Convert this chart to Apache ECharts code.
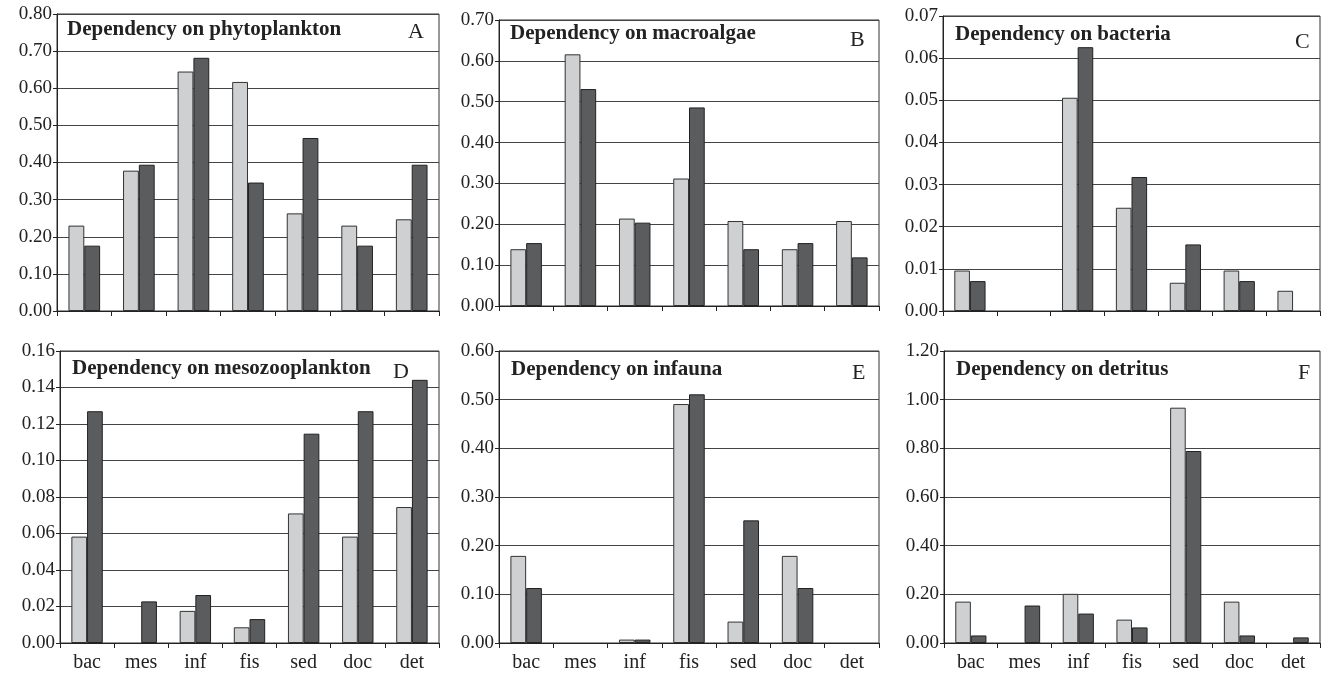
<!DOCTYPE html>
<html>
<head>
<meta charset="utf-8">
<script src="https://cdn.jsdelivr.net/npm/echarts@6/dist/echarts.min.js"></script>
<style>
  html, body { margin: 0; padding: 0; background: #fff; }
  #chart { width: 1321px; height: 673px; }
</style>
</head>
<body>
<div id="chart"></div>
<script>
// categories (same for every panel)
var categories = ["bac", "mes", "inf", "fis", "sed", "doc", "det"];

// panel titles + letters
var panelTitles = ["Dependency on phytoplankton", "Dependency on macroalgae", "Dependency on bacteria",
                   "Dependency on mesozooplankton", "Dependency on infauna", "Dependency on detritus"];
var panelLetters = ["A", "B", "C", "D", "E", "F"];

// y axis ranges
var yMax = [0.8, 0.7, 0.07, 0.16, 0.6, 1.2];
var yStep = [0.1, 0.1, 0.01, 0.02, 0.1, 0.2];

// light bars (first series) per panel
var lightA = [0.23, 0.378, 0.645, 0.617, 0.263, 0.23, 0.247];
var lightB = [0.139, 0.616, 0.214, 0.312, 0.208, 0.139, 0.208];
var lightC = [0.0096, 0, 0.0506, 0.0245, 0.0067, 0.0096, 0.0048];
var lightD = [0.0583, 0, 0.0176, 0.0086, 0.071, 0.0583, 0.0745];
var lightE = [0.179, 0, 0.007, 0.491, 0.044, 0.179, 0];
var lightF = [0.17, 0, 0.202, 0.096, 0.967, 0.17, 0];

// dark bars (second series) per panel
var darkA = [0.176, 0.394, 0.682, 0.346, 0.466, 0.176, 0.394];
var darkB = [0.154, 0.531, 0.204, 0.486, 0.139, 0.154, 0.119];
var darkC = [0.0071, 0, 0.0626, 0.0318, 0.0158, 0.0071, 0];
var darkD = [0.127, 0.0228, 0.0263, 0.0131, 0.1147, 0.127, 0.1442];
var darkE = [0.113, 0, 0.007, 0.511, 0.252, 0.113, 0];
var darkF = [0.031, 0.154, 0.121, 0.064, 0.789, 0.031, 0.023];

var lights = [lightA, lightB, lightC, lightD, lightE, lightF];
var darks = [darkA, darkB, darkC, darkD, darkE, darkF];

// layout of the six panels
var grids = [
  {left: 57, top: 14, width: 382, height: 297},
  {left: 499, top: 20, width: 380, height: 286},
  {left: 943, top: 16, width: 377, height: 295},
  {left: 60, top: 351, width: 379, height: 296},
  {left: 499, top: 351, width: 380, height: 300},
  {left: 944, top: 351, width: 376, height: 300}
];
var titlePos = [[67, 19], [510, 23], [955, 24], [72, 358], [511, 359], [956, 359]];
var letterPos = [[408, 21], [850, 29], [1295, 31], [393, 361], [852, 362], [1298, 362]];

var serif = "Liberation Serif";
var chart = echarts.init(document.getElementById("chart"));

// zero values are simply not drawn in the original
function noZero(arr) {
  return arr.map(function (v) { return v === 0 ? "-" : v; });
}

var option = {
  animation: false,
  backgroundColor: "#fff",
  title: [],
  grid: [],
  xAxis: [],
  yAxis: [],
  series: []
};

for (var i = 0; i < 6; i++) {
  var g = grids[i];
  option.grid.push({
    left: g.left, top: g.top, width: g.width, height: g.height,
    show: true, borderColor: "#333", borderWidth: 1, containLabel: false
  });
  option.title.push({
    text: panelTitles[i], left: titlePos[i][0], top: titlePos[i][1], padding: 0,
    textStyle: {fontFamily: serif, fontWeight: "bold", fontSize: 21, color: "#222"}
  });
  option.title.push({
    text: panelLetters[i], left: letterPos[i][0], top: letterPos[i][1], padding: 0,
    textStyle: {fontFamily: serif, fontWeight: "normal", fontSize: 22, color: "#222"}
  });
  option.xAxis.push({
    type: "category", gridIndex: i, data: categories,
    axisLine: {lineStyle: {color: "#222", width: 1}},
    axisTick: {show: true, length: 5, lineStyle: {color: "#222"}},
    axisLabel: {show: i >= 3, fontFamily: serif, fontSize: 20, color: "#222", margin: 10}
  });
  option.yAxis.push({
    type: "value", gridIndex: i, min: 0, max: yMax[i], interval: yStep[i],
    axisLine: {show: true, lineStyle: {color: "#222", width: 1}},
    axisTick: {show: true, length: 4, lineStyle: {color: "#222"}},
    axisLabel: {fontFamily: serif, fontSize: 19, color: "#222", margin: 5,
      formatter: function (v) { return v.toFixed(2); }},
    splitLine: {show: true, lineStyle: {color: "#444", width: 1}}
  });
  option.series.push({
    type: "bar", xAxisIndex: i, yAxisIndex: i, data: noZero(lights[i]),
    barCategoryGap: "42%", barGap: "0%",
    itemStyle: {color: "#cfd0d2", borderColor: "#333", borderWidth: 1}
  });
  option.series.push({
    type: "bar", xAxisIndex: i, yAxisIndex: i, data: noZero(darks[i]),
    barCategoryGap: "42%", barGap: "0%",
    itemStyle: {color: "#5b5c5e", borderColor: "#222", borderWidth: 1}
  });
}

chart.setOption(option);
</script>
</body>
</html>
